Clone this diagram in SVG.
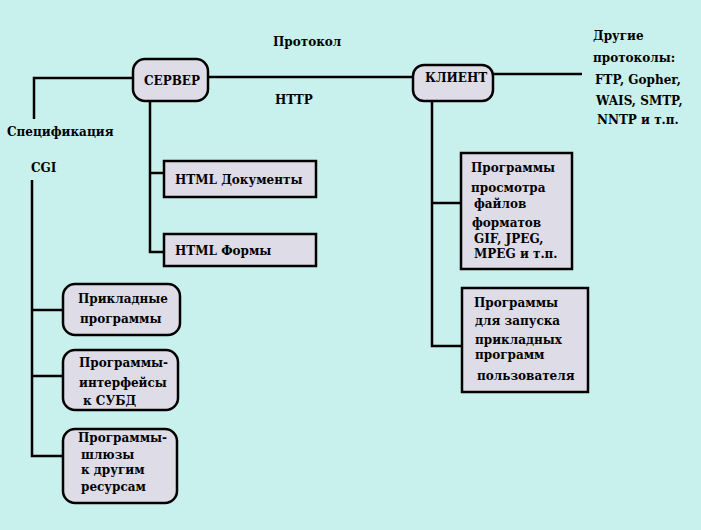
<svg xmlns="http://www.w3.org/2000/svg" width="701" height="530" viewBox="0 0 701 530">
<style>
.bg{fill:#c8f0ec}
.box{fill:#dedce6;stroke:#000;stroke-width:2.5}
.ln{fill:none;stroke:#000;stroke-width:2.5}
text{font-family:'DejaVu Serif','Liberation Serif',serif;font-weight:bold;font-size:12px;fill:#000}
</style>
<rect class="bg" x="0" y="0" width="701" height="530"/>
<g id="connectors">
<path class="ln" d="M34,119 V78 H133"/>
<path class="ln" d="M208,77 H413"/>
<path class="ln" d="M493,74 H582"/>
<path class="ln" d="M150,101 V252 H164 M150,173 H164"/>
<path class="ln" d="M432,101 V346 H462 M432,203 H461"/>
<path class="ln" d="M32,180 V456 H63 M32,310 H63 M32,376 H63"/>
</g>
<g id="labels">
<text x="273" y="46">Протокол</text>
<text x="275" y="104">HTTP</text>
<text x="7" y="136">Спецификация</text>
<text x="31" y="172">CGI</text>
<text x="593" y="40">Другие</text>
<text x="593" y="62">протоколы:</text>
<text x="595" y="84">FTP, Gopher,</text>
<text x="596" y="105">WAIS, SMTP,</text>
<text x="597" y="124">NNTP и т.п.</text>
</g>
<g id="server">
<rect class="box" x="133" y="59" width="75" height="42" rx="12"/>
<text x="144" y="85">СЕРВЕР</text>
</g>
<g id="client">
<rect class="box" x="413" y="65" width="80" height="36" rx="11"/>
<text x="425" y="82">КЛИЕНТ</text>
</g>
<g id="html-docs">
<rect class="box" x="164" y="161" width="152" height="36"/>
<text x="175" y="184">HTML Документы</text>
</g>
<g id="html-forms">
<rect class="box" x="164" y="234" width="152" height="32"/>
<text x="175" y="255">HTML Формы</text>
</g>
<g id="viewers">
<rect class="box" x="461" y="153" width="111" height="116"/>
<text x="471" y="172">Программы</text>
<text x="471" y="192">просмотра</text>
<text x="474" y="208">файлов</text>
<text x="472" y="227">форматов</text>
<text x="474" y="243">GIF, JPEG,</text>
<text x="474" y="258">MPEG и т.п.</text>
</g>
<g id="launchers">
<rect class="box" x="462" y="288" width="126" height="104"/>
<text x="474" y="307">Программы</text>
<text x="475" y="325">для запуска</text>
<text x="475" y="344">прикладных</text>
<text x="475" y="359">программ</text>
<text x="477" y="380">пользователя</text>
</g>
<g id="apps">
<rect class="box" x="63" y="284" width="117" height="51" rx="12"/>
<text x="78" y="303">Прикладные</text>
<text x="80" y="323">программы</text>
</g>
<g id="dbms">
<rect class="box" x="63" y="350" width="115" height="60" rx="12"/>
<text x="79" y="367">Программы-</text>
<text x="79" y="387">интерфейсы</text>
<text x="83" y="405">к СУБД</text>
</g>
<g id="gateways">
<rect class="box" x="63" y="429" width="114" height="74" rx="12"/>
<text x="78" y="442">Программы-</text>
<text x="81" y="459">шлюзы</text>
<text x="81" y="474">к другим</text>
<text x="81" y="491">ресурсам</text>
</g>
</svg>
